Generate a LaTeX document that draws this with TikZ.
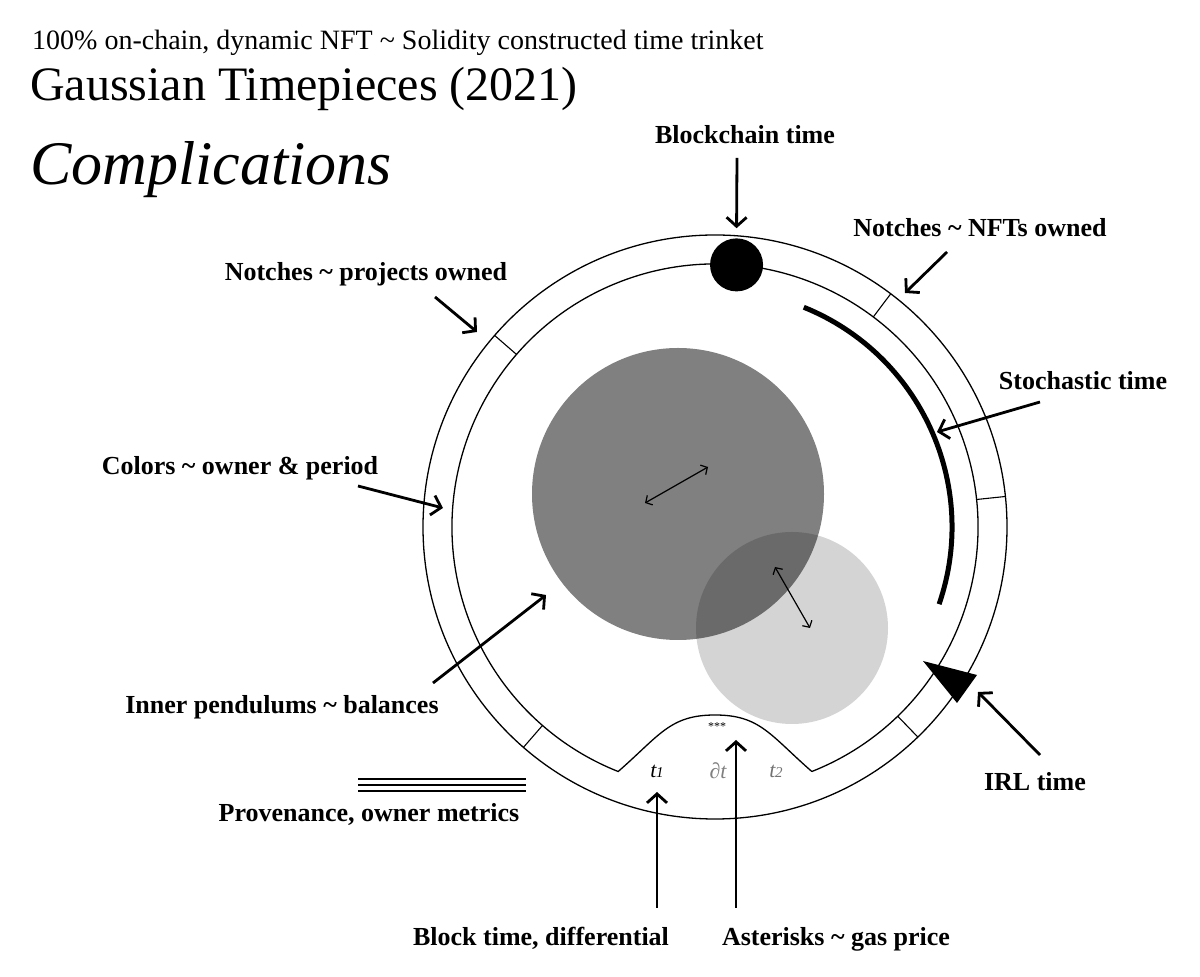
\documentclass[tikz,border=0pt]{standalone}
\usepackage{fontspec}
\setmainfont{Liberation Serif}
\usetikzlibrary{arrows.meta, positioning}

\begin{document}
\begin{tikzpicture}[
    x=1pt, y=1pt,
    lbl/.style={anchor=base, inner sep=0pt, font=\fontsize{26}{30}\selectfont\bfseries},
    head/.style={anchor=base west, inner sep=0pt},
    ring/.style={draw=black, line width=1.3pt},
    notch/.style={draw=black, line width=1.1pt},
    arrow/.style={-{Straight Barb[length=9pt, width=20pt]}, line width=2.8pt},
    swing/.style={{Straight Barb[length=5pt, width=11pt]}-{Straight Barb[length=5pt, width=11pt]}, line width=1.2pt},
    tick/.style={inner sep=0pt, font=\fontsize{22}{24}\selectfont\itshape}
]
\useasboundingbox (0,0) rectangle (1200,977);

\node[head, font=\fontsize{28}{32}\selectfont] (sub) at (32,927) {100\% on-chain, dynamic NFT \textasciitilde{} Solidity constructed time trinket};
\node[head, font=\fontsize{48}{54}\selectfont] (title) at (30,876) {Gaussian Timepieces (2021)};
\node[head, font=\fontsize{62}{70}\selectfont\itshape] (compl) at (30,792) {Complications};

\coordinate (C) at (715,450);
\coordinate (bellR) at ([shift={(-68.4:263)}]C);
\coordinate (bellL) at ([shift={(248.4:263)}]C);

\node[circle, fill=black!50, minimum size=292pt, inner sep=0pt] (bigpend) at (678,483) {};
\node[circle, fill=black, fill opacity=0.17, minimum size=192pt, inner sep=0pt] (smallpend) at (792,349) {};
\draw[swing] ([shift={(-33,-9)}]bigpend.center) -- ([shift={(30,27)}]bigpend.center);
\draw[swing] ([shift={(-17,61)}]smallpend.center) -- ([shift={(18,0)}]smallpend.center);

\draw[ring] (C) circle[radius=292];
\draw[ring] (bellR) arc[start angle=-68.4, end angle=248.4, radius=263]
    .. controls (660,242) and (670,262) .. (715,262)
    .. controls (760,262) and (770,242) .. (bellR);
\foreach \a in {139,53,6,-46,-131}
    \draw[notch] ([shift={(\a:263)}]C) -- ([shift={(\a:292)}]C);

\node[circle, fill=black, minimum size=53pt, inner sep=0pt] (blob) at ([shift={(85.3:263)}]C) {};
\draw[line width=5pt] ([shift={(68:237)}]C) arc[start angle=68, end angle=-19, radius=237];
\fill (923,316) -- (977,302) -- (957,274) -- cycle;

\node[inner sep=0pt, font=\fontsize{12}{12}\selectfont] (stars) at (717,250) {***};
\node[tick] (t1) at (657,206) {t\kern-0.5pt{\fontsize{15}{15}\selectfont 1}};
\node[tick, text=black!50] (dt) at (718,206) {∂t};
\node[tick, text=black!55] (t2) at (776,206) {t\kern-0.5pt{\fontsize{15}{15}\selectfont 2}};

\node[lbl] (blkLbl) at (745,833) {Blockchain time};
\node[lbl] (nftLbl) at (980,740) {Notches \textasciitilde{} NFTs owned};
\node[lbl] (projLbl) at (366,696) {Notches \textasciitilde{} projects owned};
\node[lbl] (stochLbl) at (1083,587) {Stochastic time};
\node[lbl] (colLbl) at (240,502) {Colors \textasciitilde{} owner \& period};
\node[lbl] (penLbl) at (282,263) {Inner pendulums \textasciitilde{} balances};
\node[lbl] (irlLbl) at (1035,186) {IRL time};
\node[lbl] (provLbl) at (369,155) {Provenance, owner metrics};
\node[lbl] (blkTimeLbl) at (541,31) {Block time, differential};
\node[lbl] (gasLbl) at (836,31) {Asterisks \textasciitilde{} gas price};

\coordinate (nftTip) at (905,684);
\coordinate (projTip) at (477,645);
\coordinate (stochTip) at (937,545);
\coordinate (colTip) at (443,469);
\coordinate (penTip) at (546,382);
\coordinate (irlTip) at (978,285);
\coordinate (blkTimeTip) at (657,185);
\coordinate (gasTip) at (736,237);

\draw[arrow] ([shift={(-8,-14)}]blkLbl.base) -- ([yshift=10pt]blob.north);
\draw[arrow] ([shift={(-33,-15)}]nftLbl.base) -- (nftTip);
\draw[arrow] ([shift={(69,-16)}]projLbl.base) -- (projTip);
\draw[arrow] ([shift={(-43,-12)}]stochLbl.base) -- (stochTip);
\draw[arrow] ([shift={(118,-11)}]colLbl.base) -- (colTip);
\draw[arrow] ([shift={(151,31)}]penLbl.base) -- (penTip);
\draw[arrow] ([shift={(5,36)}]irlLbl.base) -- (irlTip);
\draw[arrow] ([shift={(116,38)}]blkTimeLbl.base) -- (blkTimeTip);
\draw[arrow] ([shift={(-100,38)}]gasLbl.base) -- (gasTip);

\foreach \dy in {31,37,43}
    \draw[line width=1.4pt] ([shift={(-11,\dy)}]provLbl.base) -- ++(168,0);
\end{tikzpicture}
\end{document}
